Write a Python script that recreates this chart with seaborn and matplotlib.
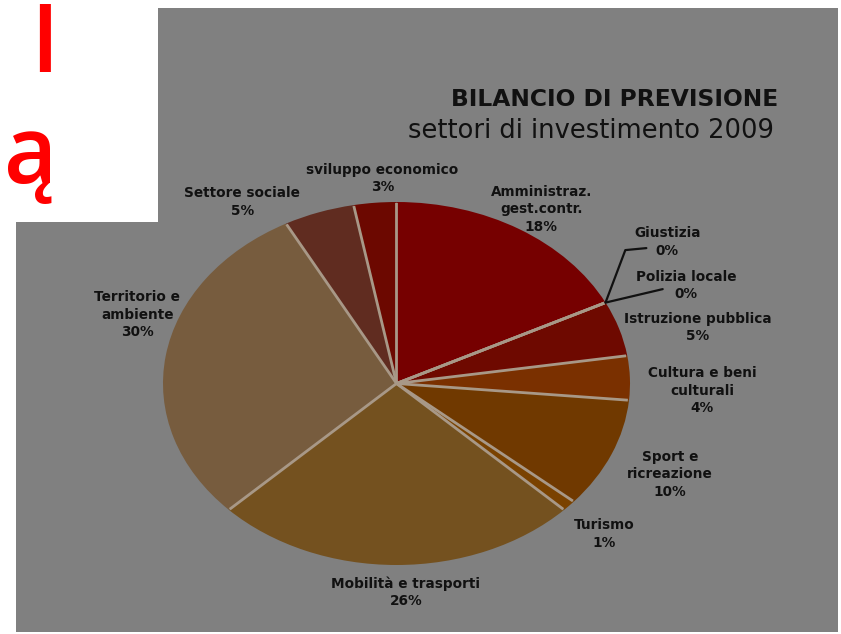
import matplotlib
matplotlib.use('Agg')
import matplotlib.pyplot as plt
import seaborn as sns
import numpy as np
from matplotlib.patches import Rectangle

# Data
settori = ['Amministraz.\ngest.contr.', 'Giustizia', 'Polizia locale', 'Istruzione pubblica',
           'Cultura e beni\nculturali', 'Sport e\nricreazione', 'Turismo', 'Mobilità e trasporti',
           'Territorio e\nambiente', 'Settore sociale', 'sviluppo economico']
percentuali = [18, 0, 0, 5, 4, 10, 1, 26, 30, 5, 3]
colori = ['#760000', '#760000', '#760000', '#6e0900', '#7a3000', '#703900', '#7a4200',
          '#74511f', '#775c3e', '#602c20', '#6c0800']

# label positions (pie units, rx=ry=1)
pos_etichette = [(0.62, 0.96), (1.16, 0.78), (1.24, 0.54), (1.29, 0.31), (1.31, -0.04),
                 (1.17, -0.50), (0.89, -0.83), (0.04, -1.15), (-1.11, 0.38), (-0.66, 1.0),
                 (-0.06, 1.13)]

sns.set_theme(style='white')
plt.rcParams['font.family'] = ['DejaVu Sans']

W, H = 841, 634
fig = plt.figure(figsize=(W / 100, H / 100), dpi=100)
fig.patch.set_facecolor('white')

# grey photo background + white corner box
fig.add_artist(Rectangle((16 / W, 2 / H), (838 - 16) / W, (632 - 8) / H,
                         transform=fig.transFigure, facecolor='#808080', edgecolor='none', zorder=0))
fig.add_artist(Rectangle((0, (H - 222) / H), 158 / W, 222 / H,
                         transform=fig.transFigure, facecolor='white', edgecolor='none', zorder=1))
fig.text(30 / W, 1 - 72 / H, 'I', color='#ff0000', fontsize=68, fontweight='semibold',
         family='Open Sans', ha='left', va='baseline', zorder=2)
fig.text(4 / W, 1 - 183 / H, 'ą', color='#ff0000', fontsize=66, fontweight='semibold',
         family='Open Sans', ha='left', va='baseline', zorder=2)

# titles
fig.text(778 / W, 1 - 100 / H, 'BILANCIO DI PREVISIONE', fontsize=16.8, fontweight='bold',
         color='#111111', ha='right', va='center')
fig.text(774 / W, 1 - 131 / H, 'settori di investimento 2009', fontsize=18.5,
         color='#111111', ha='right', va='center')

# pie, stretched into an ellipse
ax = fig.add_axes([163 / W, (H - 565) / H, 467 / W, 363 / H])
ax.set_facecolor('none')
wedges, _ = ax.pie(percentuali, colors=colori, startangle=90, counterclock=False,
                   wedgeprops=dict(edgecolor='none', linewidth=0))
ax.set_aspect('auto')
ax.set_xlim(-1, 1)
ax.set_ylim(-1, 1)
ax.axis('off')

# separator lines between slices
for w in wedges:
    a = np.deg2rad(w.theta1)
    ax.plot([0, np.cos(a) * 0.995], [0, np.sin(a) * 0.995], color='#a89887', lw=2,
            solid_capstyle='butt')

for nome, val, (x, y) in zip(settori, percentuali, pos_etichette):
    ax.text(x, y, f'{nome}\n{val}%', ha='center', va='center', fontsize=9.8,
            fontweight='bold', color='#111111', linespacing=1.3, clip_on=False)

# leader lines for the zero slices
ang = np.deg2rad(90 - percentuali[0] / sum(percentuali) * 360)
ancora = (np.cos(ang), np.sin(ang))
ax.plot([ancora[0], 0.98, 1.07], [ancora[1], 0.735, 0.746], color='#111111', lw=1.6, clip_on=False)
ax.plot([ancora[0], 1.14], [ancora[1], 0.52], color='#111111', lw=1.6, clip_on=False)

fig.savefig('out.png', dpi=100, facecolor='white')
